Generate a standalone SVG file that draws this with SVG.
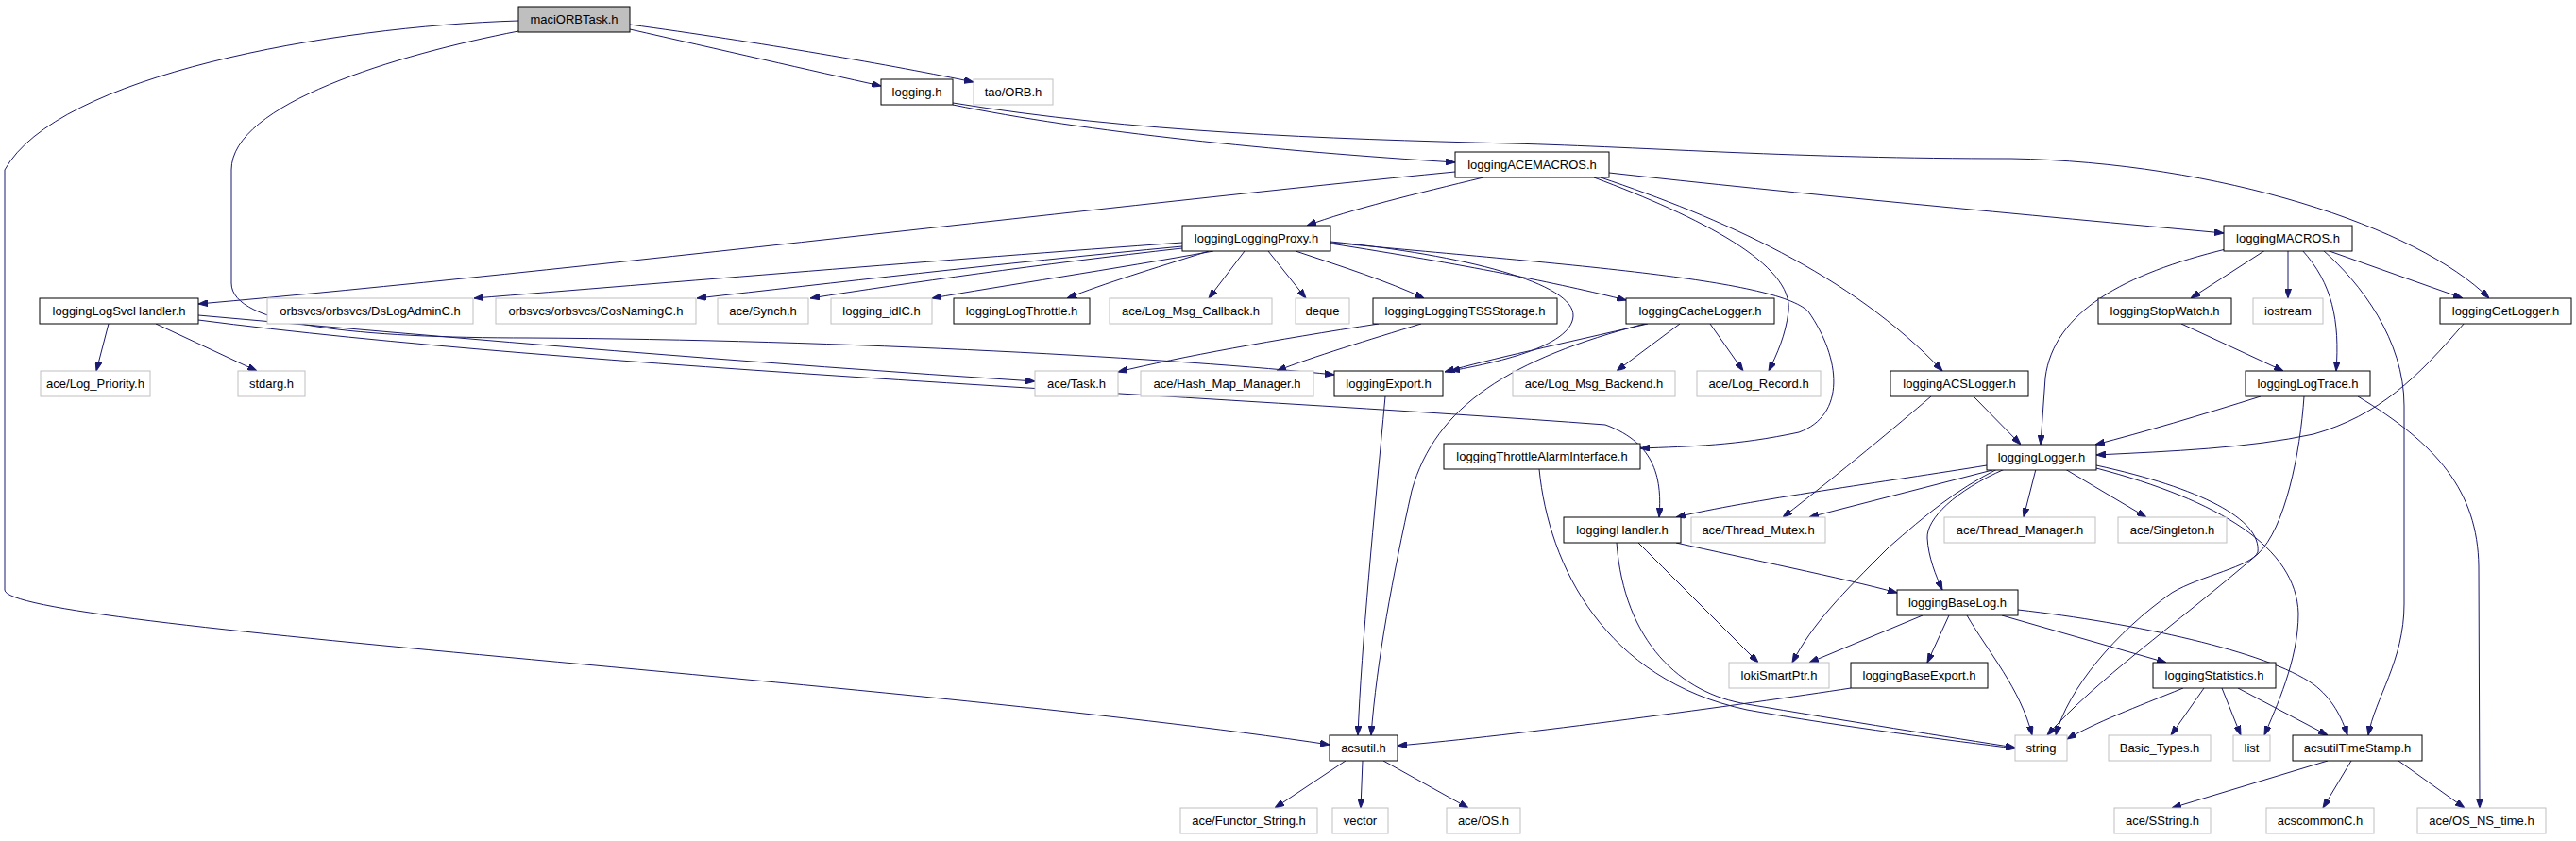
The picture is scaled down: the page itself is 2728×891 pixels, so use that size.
<svg xmlns="http://www.w3.org/2000/svg" width="2728" height="891" viewBox="0 0 2728 891">
<defs>
<style>
.n rect{fill:#fff;stroke:#000;stroke-width:1}
.x rect{stroke:#bfbfbf}
.r rect{fill:#bfbfbf}
.n text{font-family:"Liberation Sans",Arial,Helvetica,sans-serif;font-size:13px;text-anchor:middle;fill:#000}
.e path{fill:none;stroke:#191970;stroke-width:1;marker-end:url(#a)}
</style>
<marker id="a" markerWidth="10" markerHeight="7" refX="10" refY="3.5" orient="auto" markerUnits="userSpaceOnUse"><path d="M0,0 L10,3.5 L0,7 z" fill="#191970" stroke="#191970" stroke-width="1"/></marker>
</defs>
<rect width="2728" height="891" fill="#fff"/>
<g id="edges" class="e">
<path d="M667,31 C760,52 860,75 933,91"/>
<path d="M667,26 C800,44 950,70 1031,87"/>
<path d="M549,22 C350,28 60,80 5,180 L5,625 C5,665 950,720 1408,789"/>
<path d="M549,33 C420,58 245,110 245,180 L245,300 C245,345 380,358 560,358 C900,360 1250,380 1413,397"/>
<path d="M1009,111 C1150,140 1350,160 1541,172"/>
<path d="M1009,109 C1200,140 1400,147 1600,152 C1750,156 1900,168 2130,168 C2350,172 2560,240 2636,316"/>
<path d="M1571,188 C1500,205 1430,222 1384,239"/>
<path d="M1541,182 C1200,215 600,288 210,322"/>
<path d="M1704,183 C1900,205 2150,228 2355,247"/>
<path d="M1688,188 C1800,230 1900,280 1894,330 C1891,355 1882,375 1873,393"/>
<path d="M1695,188 C1820,230 1960,290 2057,393"/>
<path d="M1252,257 C1000,275 700,300 502,316"/>
<path d="M1252,261 C1050,280 880,300 738,316"/>
<path d="M1252,263 C1100,280 960,300 858,316"/>
<path d="M1285,266 C1180,285 1060,303 987,316"/>
<path d="M1280,266 C1220,285 1170,300 1130,316"/>
<path d="M1318,266 L1280,316"/>
<path d="M1343,266 L1383,316"/>
<path d="M1372,266 C1420,282 1470,298 1508,316"/>
<path d="M1409,258 C1550,280 1650,300 1722,318"/>
<path d="M1409,256 C1550,270 1668,300 1666,335 C1664,368 1580,385 1536,393"/>
<path d="M1409,257 C1650,280 1880,295 1915,330 C1950,380 1955,440 1905,458 C1840,472 1790,473 1737,475"/>
<path d="M115,343 L102,393"/>
<path d="M165,343 L272,393"/>
<path d="M210,334 C500,360 800,385 1096,404"/>
<path d="M210,339 C600,390 1300,420 1700,450 C1755,470 1760,510 1757,548"/>
<path d="M1460,343 C1350,360 1250,378 1184,394"/>
<path d="M1505,343 C1450,360 1390,378 1352,393"/>
<path d="M1745,343 C1650,365 1580,380 1530,394"/>
<path d="M1779,343 L1712,393"/>
<path d="M1811,343 L1846,393"/>
<path d="M1742,343 C1600,380 1520,430 1495,520 C1475,610 1458,700 1452,779"/>
<path d="M1467,420 C1455,550 1442,680 1438,779"/>
<path d="M1630,497 C1640,600 1700,720 1850,752 C1950,770 2070,785 2134,793"/>
<path d="M1775,575 C1850,592 1950,612 2009,628"/>
<path d="M1735,575 C1780,620 1830,670 1862,702"/>
<path d="M1712,575 C1720,680 1780,735 1850,746 C1950,763 2070,782 2134,792"/>
<path d="M2104,493 C2000,510 1850,530 1775,548"/>
<path d="M2110,498 L1916,548"/>
<path d="M2156,497 L2143,548"/>
<path d="M2187,497 L2273,548"/>
<path d="M2123,497 C2070,520 2040,550 2041,570 C2042,590 2050,610 2057,625"/>
<path d="M2115,497 C2070,520 2040,545 2000,580 C1950,630 1920,660 1898,702"/>
<path d="M2220,493 C2330,517 2395,550 2391,585 C2385,600 2330,610 2300,628 C2240,670 2190,730 2177,779"/>
<path d="M2220,496 C2350,530 2432,580 2434,650 C2434,700 2410,750 2398,779"/>
<path d="M2394,420 C2330,440 2270,458 2219,471"/>
<path d="M2357,264 C2250,290 2175,330 2166,400 L2161,471"/>
<path d="M2610,342 C2560,400 2520,440 2450,460 C2380,475 2300,478 2220,482"/>
<path d="M2440,420 C2436,480 2420,560 2391,587 C2300,665 2220,720 2168,779"/>
<path d="M2497,420 C2580,470 2624,520 2625,600 L2626,856"/>
<path d="M2460,265 C2500,300 2546,360 2546,430 L2546,640 C2546,700 2515,740 2508,779"/>
<path d="M2399,265 L2320,316"/>
<path d="M2423,265 L2423,316"/>
<path d="M2438,265 C2470,300 2478,340 2474,393"/>
<path d="M2464,265 L2608,316"/>
<path d="M2310,343 L2418,393"/>
<path d="M2090,420 L2140,471"/>
<path d="M2045,420 C2010,450 1950,500 1888,548"/>
<path d="M2036,652 L1916,702"/>
<path d="M2064,652 L2041,702"/>
<path d="M2083,652 C2105,690 2140,730 2152,779"/>
<path d="M2120,652 L2294,702"/>
<path d="M2137,646 C2260,660 2400,690 2450,725 C2470,740 2480,760 2486,779"/>
<path d="M1960,729 C1850,746 1600,780 1480,790"/>
<path d="M2312,729 C2260,750 2220,765 2189,783"/>
<path d="M2334,729 L2299,779"/>
<path d="M2353,729 L2373,779"/>
<path d="M2370,729 L2465,779"/>
<path d="M2465,806 L2300,856"/>
<path d="M2490,806 L2460,856"/>
<path d="M2540,806 L2610,856"/>
<path d="M1425,806 L1350,856"/>
<path d="M1443,806 L1441,856"/>
<path d="M1465,806 L1555,856"/>
</g>
<g id="maciORBTask" class="n r"><rect x="549" y="7" width="118" height="27"/><text x="608" y="25">maciORBTask.h</text></g>
<g id="logging" class="n"><rect x="933" y="84" width="76" height="27"/><text x="971" y="102">logging.h</text></g>
<g id="taoORB" class="n x"><rect x="1031" y="84" width="84" height="27"/><text x="1073" y="102">tao/ORB.h</text></g>
<g id="ACEMACROS" class="n"><rect x="1541" y="161" width="163" height="27"/><text x="1622.5" y="179">loggingACEMACROS.h</text></g>
<g id="Proxy" class="n"><rect x="1252" y="239" width="157" height="27"/><text x="1330.5" y="257">loggingLoggingProxy.h</text></g>
<g id="MACROS" class="n"><rect x="2355" y="239" width="136" height="27"/><text x="2423" y="257">loggingMACROS.h</text></g>
<g id="LogSvcHandler" class="n"><rect x="42" y="316" width="168" height="27"/><text x="126" y="334">loggingLogSvcHandler.h</text></g>
<g id="DsLogAdmin" class="n x"><rect x="283" y="316" width="218" height="27"/><text x="392" y="334">orbsvcs/orbsvcs/DsLogAdminC.h</text></g>
<g id="CosNaming" class="n x"><rect x="525" y="316" width="212" height="27"/><text x="631" y="334">orbsvcs/orbsvcs/CosNamingC.h</text></g>
<g id="Synch" class="n x"><rect x="760" y="316" width="96" height="27"/><text x="808" y="334">ace/Synch.h</text></g>
<g id="idlC" class="n x"><rect x="880" y="316" width="107" height="27"/><text x="933.5" y="334">logging_idlC.h</text></g>
<g id="LogThrottle" class="n"><rect x="1010" y="316" width="144" height="27"/><text x="1082" y="334">loggingLogThrottle.h</text></g>
<g id="LogMsgCallback" class="n x"><rect x="1175" y="316" width="172" height="27"/><text x="1261" y="334">ace/Log_Msg_Callback.h</text></g>
<g id="deque" class="n x"><rect x="1372" y="316" width="57" height="27"/><text x="1400.5" y="334">deque</text></g>
<g id="TSS" class="n"><rect x="1454" y="316" width="195" height="27"/><text x="1551.5" y="334">loggingLoggingTSSStorage.h</text></g>
<g id="Cache" class="n"><rect x="1722" y="316" width="157" height="27"/><text x="1800.5" y="334">loggingCacheLogger.h</text></g>
<g id="StopWatch" class="n"><rect x="2222" y="316" width="141" height="27"/><text x="2292.5" y="334">loggingStopWatch.h</text></g>
<g id="iostream" class="n x"><rect x="2386" y="316" width="74" height="27"/><text x="2423" y="334">iostream</text></g>
<g id="GetLogger" class="n"><rect x="2584" y="316" width="139" height="27"/><text x="2653.5" y="334">loggingGetLogger.h</text></g>
<g id="LogPriority" class="n x"><rect x="43" y="393" width="116" height="27"/><text x="101" y="411">ace/Log_Priority.h</text></g>
<g id="stdarg" class="n x"><rect x="252" y="393" width="71" height="27"/><text x="287.5" y="411">stdarg.h</text></g>
<g id="Task" class="n x"><rect x="1096" y="393" width="88" height="27"/><text x="1140" y="411">ace/Task.h</text></g>
<g id="HashMap" class="n x"><rect x="1208" y="393" width="183" height="27"/><text x="1299.5" y="411">ace/Hash_Map_Manager.h</text></g>
<g id="Export" class="n"><rect x="1413" y="393" width="115" height="27"/><text x="1470.5" y="411">loggingExport.h</text></g>
<g id="LogMsgBackend" class="n x"><rect x="1602" y="393" width="172" height="27"/><text x="1688" y="411">ace/Log_Msg_Backend.h</text></g>
<g id="LogRecord" class="n x"><rect x="1797" y="393" width="131" height="27"/><text x="1862.5" y="411">ace/Log_Record.h</text></g>
<g id="ACSLogger" class="n"><rect x="2002" y="393" width="146" height="27"/><text x="2075" y="411">loggingACSLogger.h</text></g>
<g id="LogTrace" class="n"><rect x="2378" y="393" width="132" height="27"/><text x="2444" y="411">loggingLogTrace.h</text></g>
<g id="ThrottleAlarm" class="n"><rect x="1529" y="470" width="208" height="27"/><text x="1633" y="488">loggingThrottleAlarmInterface.h</text></g>
<g id="Logger" class="n"><rect x="2104" y="471" width="116" height="27"/><text x="2162" y="489">loggingLogger.h</text></g>
<g id="Handler" class="n"><rect x="1656" y="548" width="124" height="27"/><text x="1718" y="566">loggingHandler.h</text></g>
<g id="ThreadMutex" class="n x"><rect x="1791" y="548" width="142" height="27"/><text x="1862" y="566">ace/Thread_Mutex.h</text></g>
<g id="ThreadManager" class="n x"><rect x="2059" y="548" width="160" height="27"/><text x="2139" y="566">ace/Thread_Manager.h</text></g>
<g id="Singleton" class="n x"><rect x="2243" y="548" width="115" height="27"/><text x="2300.5" y="566">ace/Singleton.h</text></g>
<g id="BaseLog" class="n"><rect x="2009" y="625" width="128" height="27"/><text x="2073" y="643">loggingBaseLog.h</text></g>
<g id="loki" class="n x"><rect x="1831" y="702" width="106" height="27"/><text x="1884" y="720">lokiSmartPtr.h</text></g>
<g id="BaseExport" class="n"><rect x="1960" y="702" width="145" height="27"/><text x="2032.5" y="720">loggingBaseExport.h</text></g>
<g id="Statistics" class="n"><rect x="2280" y="702" width="130" height="27"/><text x="2345" y="720">loggingStatistics.h</text></g>
<g id="acsutil" class="n"><rect x="1408" y="779" width="72" height="27"/><text x="1444" y="797">acsutil.h</text></g>
<g id="string" class="n x"><rect x="2134" y="779" width="55" height="27"/><text x="2161.5" y="797">string</text></g>
<g id="BasicTypes" class="n x"><rect x="2233" y="779" width="108" height="27"/><text x="2287" y="797">Basic_Types.h</text></g>
<g id="list" class="n x"><rect x="2365" y="779" width="39" height="27"/><text x="2384.5" y="797">list</text></g>
<g id="TimeStamp" class="n"><rect x="2428" y="779" width="137" height="27"/><text x="2496.5" y="797">acsutilTimeStamp.h</text></g>
<g id="FunctorString" class="n x"><rect x="1250" y="856" width="145" height="27"/><text x="1322.5" y="874">ace/Functor_String.h</text></g>
<g id="vector" class="n x"><rect x="1411" y="856" width="59" height="27"/><text x="1440.5" y="874">vector</text></g>
<g id="OS" class="n x"><rect x="1532" y="856" width="78" height="27"/><text x="1571" y="874">ace/OS.h</text></g>
<g id="SString" class="n x"><rect x="2239" y="856" width="102" height="27"/><text x="2290" y="874">ace/SString.h</text></g>
<g id="acscommonC" class="n x"><rect x="2400" y="856" width="114" height="27"/><text x="2457" y="874">acscommonC.h</text></g>
<g id="OSNStime" class="n x"><rect x="2560" y="856" width="136" height="27"/><text x="2628" y="874">ace/OS_NS_time.h</text></g>
</svg>
